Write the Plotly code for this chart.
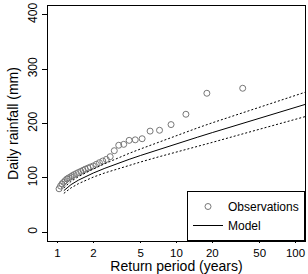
import plotly.graph_objects as go

# Observations: return period (years) and daily rainfall (mm)
obs_T = [36.0, 18.0, 12.0, 9.0, 7.2, 6.0, 5.14, 4.5, 4.0, 3.6, 3.27, 3.0,
         2.77, 2.57, 2.4, 2.25, 2.12, 2.0, 1.89, 1.8, 1.71, 1.64, 1.57, 1.5,
         1.44, 1.38, 1.33, 1.29, 1.24, 1.2, 1.16, 1.125, 1.09, 1.06, 1.03]
obs_rain = [264.8, 255.6, 217, 198, 187.6, 186, 172, 170, 169, 161.7, 160, 150,
            139, 134, 131, 128, 125, 122, 120, 118, 116, 114, 112, 110,
            108, 106, 104, 102, 100, 98, 95, 92, 89, 85, 80]

# Model curve and its confidence band
model_T = [1.13, 1.2, 1.3, 1.5, 1.75, 2, 2.5, 3, 4, 5, 7, 10, 15, 20, 30, 50, 75, 100, 125]
model_rain = [76.6, 82.0, 87.7, 95.9, 103.3, 109.0, 117.7, 124.3, 134.1, 141.3, 151.9,
              162.7, 174.8, 183.3, 195.1, 209.8, 221.5, 229.7, 236.1]
upper_rain = [81.6, 87.5, 93.7, 102.4, 110.3, 116.5, 126.2, 133.8, 145.1, 153.3, 165.4,
              178.2, 191.8, 201.3, 214.1, 230.3, 243.0, 251.7, 258.6]
lower_rain = [71.6, 76.5, 81.7, 89.4, 96.3, 101.5, 109.2, 114.8, 123.1, 129.3, 138.4,
              147.2, 157.8, 165.3, 176.1, 189.3, 200.0, 207.7, 213.6]

x_ticks = [1, 2, 5, 10, 20, 50, 100]
y_ticks = [0, 100, 200, 300, 400]

FONT = "Liberation Sans, Arial, sans-serif"

fig = go.Figure()
fig.add_trace(go.Scatter(x=obs_T, y=obs_rain, mode="markers", name="Observations",
                         marker=dict(symbol="circle-open", size=6, color="#777777",
                                     line=dict(width=1, color="#777777"))))
fig.add_trace(go.Scatter(x=model_T, y=model_rain, mode="lines", name="Model",
                         line=dict(color="black", width=1)))
fig.add_trace(go.Scatter(x=model_T, y=upper_rain, mode="lines", showlegend=False,
                         line=dict(color="black", width=1, dash="2px,2px")))
fig.add_trace(go.Scatter(x=model_T, y=lower_rain, mode="lines", showlegend=False,
                         line=dict(color="black", width=1, dash="2px,2px")))

fig.update_layout(
    width=308, height=274,
    margin=dict(l=48, r=3, t=6, b=33, autoexpand=False),
    paper_bgcolor="white", plot_bgcolor="white",
    font=dict(family=FONT, size=12, color="black"),
    legend=dict(x=1, y=0, xanchor="right", yanchor="bottom",
                bordercolor="black", borderwidth=1, bgcolor="white",
                font=dict(size=12), itemwidth=30, tracegroupgap=0),
    xaxis=dict(type="log", range=[-0.08, 2.08], tickvals=x_ticks,
               ticktext=[str(v) for v in x_ticks], tickfont=dict(size=11.5),
               showgrid=False, zeroline=False, showline=True, mirror=True,
               linecolor="black", linewidth=1, ticks="outside", ticklen=1,
               tickcolor="black", automargin=True,
               title=dict(text="Return period (years)", standoff=2)),
    yaxis=dict(range=[-16, 416], tickvals=y_ticks, tickangle=-90,
               showgrid=False, zeroline=False, showline=True, mirror=True,
               linecolor="black", linewidth=1, ticks="outside", ticklen=5,
               tickcolor="black", automargin=True,
               title=dict(text="Daily rainfall (mm)", standoff=4)),
)

fig.write_html("out.html", config={"displayModeBar": False},
               post_script="document.body.style.margin='0px';")
